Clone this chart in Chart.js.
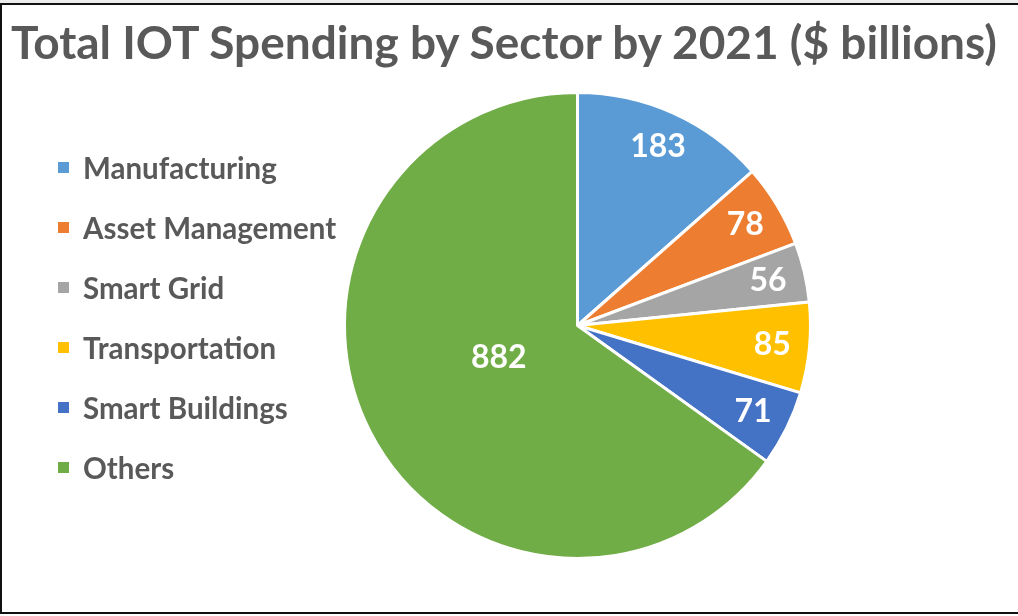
<!DOCTYPE html>
<html>
<head>
<meta charset="utf-8">
<title>Total IOT Spending by Sector by 2021</title>
<script src="https://cdn.jsdelivr.net/npm/chart.js@4.4.1/dist/chart.umd.min.js"></script>
<style>
  html, body {
    margin: 0;
    padding: 0;
    background: #ffffff;
    overflow: hidden;
  }
  #topStrip {
    position: absolute;
    left: 0;
    top: 0;
    width: 1018px;
    height: 3px;
    background: #ececec;
  }
  #frame {
    position: absolute;
    left: 0;
    top: 3px;
    width: 1030px;
    height: 611px;
    box-sizing: border-box;
    border: 2px solid #111111;
    pointer-events: none;
  }
  #wrap {
    position: absolute;
    left: 0;
    top: 0;
    width: 1018px;
    height: 616px;
  }
  #chartTitle {
    position: absolute;
    left: 0;
    top: 15px;
    width: 1008px;
    text-align: center;
    font-family: Lato, "Open Sans", sans-serif;
    font-weight: bold;
    font-size: 46px;
    line-height: 54px;
    color: #595959;
    white-space: nowrap;
  }
  #chartTitle span {
    display: inline-block;
    transform-origin: center center;
  }
  #legend {
    position: absolute;
    left: 58px;
    top: 0;
    margin: 0;
    padding: 0;
    list-style: none;
    font-family: Lato, "Open Sans", sans-serif;
    font-weight: bold;
    font-size: 29.5px;
    color: #595959;
  }
  #legend li {
    position: absolute;
    left: 0;
    white-space: nowrap;
    display: flex;
    align-items: center;
    height: 34px;
    transform: translateY(-50%);
  }
  #legend .swatch {
    display: inline-block;
    width: 11px;
    height: 11px;
    margin-right: 14px;
  }
</style>
</head>
<body>
<div id="topStrip"></div>
<div id="wrap">
  <canvas id="pieChart" width="1018" height="616"></canvas>
  <div id="chartTitle"><span></span></div>
  <ul id="legend"></ul>
</div>
<div id="frame"></div>

<script>
const sectors = ["Manufacturing", "Asset Management", "Smart Grid", "Transportation", "Smart Buildings", "Others"];
const spending = [183, 78, 56, 85, 71, 882];
const sectorColors = ["#5B9BD5", "#ED7D31", "#A5A5A5", "#FFC000", "#4472C4", "#70AD47"];

const chartTitle = "Total IOT Spending by Sector by 2021 ($ billions)";

// writes the value in white inside each slice
const sliceLabels = {
  id: "sliceLabels",
  afterDatasetsDraw(chart) {
    const ctx = chart.ctx;
    const meta = chart.getDatasetMeta(0);
    const values = chart.data.datasets[0].data;
    const total = values.reduce((sum, v) => sum + v, 0);

    ctx.save();
    ctx.fillStyle = "#ffffff";
    ctx.font = "bold 32px Lato, 'Open Sans', sans-serif";
    ctx.textAlign = "center";
    ctx.textBaseline = "middle";

    meta.data.forEach((arc, i) => {
      const p = arc.getProps(["x", "y", "startAngle", "endAngle", "outerRadius"], true);
      const mid = (p.startAngle + p.endAngle) / 2;
      const share = values[i] / total;
      // the big slice gets its label nearer the centre
      const dist = share > 0.5 ? p.outerRadius * 0.38 : p.outerRadius * 0.84;
      const tx = p.x + Math.cos(mid) * dist;
      const ty = p.y + Math.sin(mid) * dist - (share > 0.5 ? 8 : 0);
      ctx.fillText(String(values[i]), tx, ty);
    });

    ctx.restore();
  }
};

// keep the title inside the frame width
function renderTitle() {
  const span = document.querySelector("#chartTitle span");
  span.textContent = chartTitle;
  const maxWidth = 986;
  const w = span.getBoundingClientRect().width;
  if (w > maxWidth) {
    span.style.transform = `scaleX(${maxWidth / w})`;
  }
}

// legend as a list next to the canvas
function renderLegend() {
  const legendEl = document.getElementById("legend");
  legendEl.innerHTML = "";

  const rowTop = 167;
  const rowGap = 60;

  sectors.forEach((name, i) => {
    const li = document.createElement("li");
    li.style.top = (rowTop + i * rowGap) + "px";
    li.innerHTML = `<span class="swatch" style="background:${sectorColors[i]}"></span>${name}`;
    legendEl.appendChild(li);
  });
}

const ctx = document.getElementById("pieChart");

const pieChart = new Chart(ctx, {
  type: "pie",
  data: {
    labels: sectors,
    datasets: [
      {
        data: spending,
        backgroundColor: sectorColors,
        borderColor: "#ffffff",
        borderWidth: 3
      }
    ]
  },
  options: {
    responsive: false,
    animation: false,
    layout: {
      padding: {
        left: 343,
        right: 206,
        top: 91,
        bottom: 56
      }
    },
    plugins: {
      legend: {
        display: false
      },
      tooltip: {
        enabled: false
      },
      title: {
        display: false
      }
    }
  },
  plugins: [sliceLabels]
});

renderTitle();
renderLegend();
</script>
</body>
</html>
